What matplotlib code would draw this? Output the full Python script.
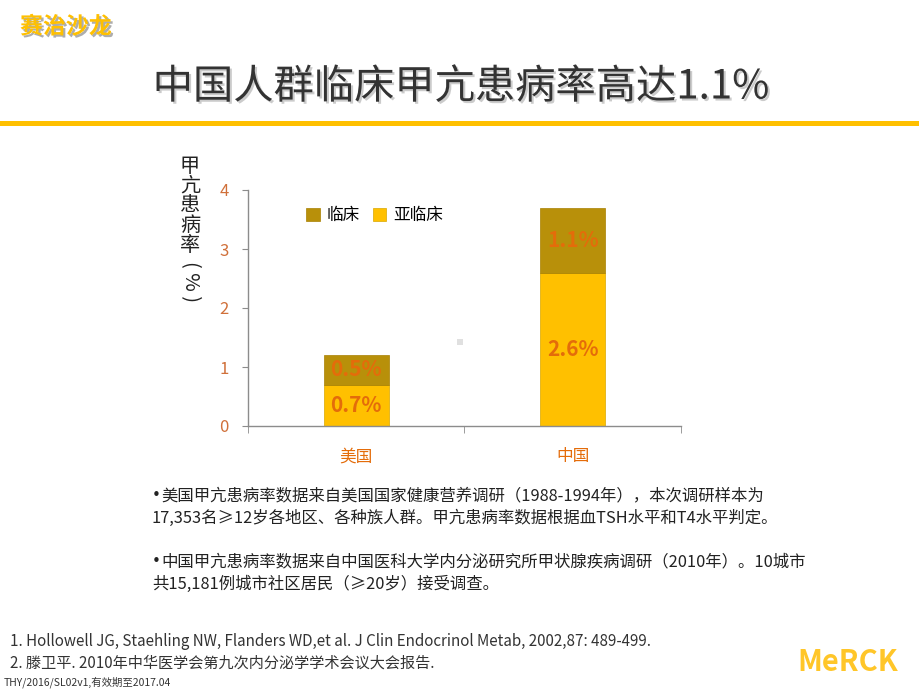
import matplotlib
matplotlib.use('Agg')
import matplotlib.pyplot as plt
import matplotlib.patheffects as pe
from matplotlib.patches import Rectangle
import numpy as np

plt.rcParams['font.family'] = ['Noto Sans CJK SC', 'DejaVu Sans']

# Data
countries = ['美国', '中国']
subclinical = [0.7, 2.6]
clinical = [0.5, 1.1]
sub_labels = ['0.7%', '2.6%']
clin_labels = ['0.5%', '1.1%']
yticks = [0, 1, 2, 3, 4]

gold = '#FFC000'
dark_gold = '#B8900A'
orange = '#E46C0A'
axis_grey = '#8C8C8C'

fig = plt.figure(figsize=(9.2, 6.9), dpi=100)

# Header
fig.text(20 / 920, 1 - 27 / 690, '赛治沙龙', fontsize=16.5, fontweight='bold', color=gold,
         va='center', ha='left',
         path_effects=[pe.withSimplePatchShadow(offset=(1.5, -1.5), shadow_rgbFace='#777777', alpha=0.6)])
fig.text(461 / 920, 1 - 87 / 690, '中国人群临床甲亢患病率高达1.1%', fontsize=29, fontweight='light',
         color='#333333', va='center', ha='center',
         path_effects=[pe.withSimplePatchShadow(offset=(1.5, -1.5), shadow_rgbFace='#999999', alpha=0.5)])
fig.add_artist(Rectangle((0, 1 - 126 / 690), 1, 5 / 690, transform=fig.transFigure,
                         facecolor=gold, edgecolor='none'))

# Chart
ax = fig.add_axes([248 / 920, 1 - 426 / 690, 433 / 920, 236 / 690])
x = np.arange(len(countries))
width = 0.3
ax.bar(x, subclinical, width, color=gold, edgecolor='#D9A800', linewidth=0.5, label='亚临床')
ax.bar(x, clinical, width, bottom=subclinical, color=dark_gold, edgecolor='#A88000',
       linewidth=0.5, label='临床')

for i in range(len(countries)):
    ax.text(x[i], subclinical[i] / 2, sub_labels[i], ha='center', va='center',
            fontsize=15, fontweight='bold', color=orange)
    ax.text(x[i], subclinical[i] + clinical[i] / 2, clin_labels[i], ha='center', va='center',
            fontsize=15, fontweight='bold', color=orange)

ax.set_xlim(-0.5, 1.5)
ax.set_ylim(0, 4)
ax.set_yticks(yticks)
ax.set_yticklabels([str(v) for v in yticks], color='#D0703A', fontsize=12)
ax.set_xticks(x)
ax.set_xticklabels(countries, color=orange, fontsize=12)
ax.tick_params(axis='x', length=0, pad=16)
ax.tick_params(axis='y', length=4, color=axis_grey, pad=10)
ax.set_xticks([-0.5, 0.5, 1.5], minor=True)
ax.tick_params(axis='x', which='minor', length=5, color=axis_grey, direction='out')
for s in ['top', 'right']:
    ax.spines[s].set_visible(False)
for s in ['left', 'bottom']:
    ax.spines[s].set_color(axis_grey)
    ax.spines[s].set_linewidth(1)

handles, labels = ax.get_legend_handles_labels()
ax.legend(handles[::-1], labels[::-1], loc='upper left', bbox_to_anchor=(0.10, 0.99), ncol=2,
          frameon=False, fontsize=12, handlelength=0.8, handleheight=0.8,
          handletextpad=0.4, columnspacing=0.8)

# small grey marker artifact
fig.add_artist(Rectangle((457 / 920, 1 - 345 / 690), 6 / 920, 6 / 690, transform=fig.transFigure,
                         facecolor='#E0E0E0', edgecolor='none'))

# Y label, stacked vertically
fig.text(190 / 920, 1 - 206 / 690, '甲\n亢\n患\n病\n率', fontsize=14.5, color='#222222',
         ha='center', va='center', linespacing=0.92)
fig.text(190 / 920, 1 - 282 / 690, '( % )', fontsize=14.5, color='#222222',
         ha='center', va='center', rotation=270)

# Notes
notes = [
    (496, True, '美国甲亢患病率数据来自美国国家健康营养调研（1988-1994年），本次调研样本为'),
    (518, False, '17,353名≥12岁各地区、各种族人群。甲亢患病率数据根据血TSH水平和T4水平判定。'),
    (562, True, '中国甲亢患病率数据来自中国医科大学内分泌研究所甲状腺疾病调研（2010年）。10城市'),
    (584, False, '共15,181例城市社区居民（≥20岁）接受调查。'),
]
for y, bullet, t in notes:
    if bullet:
        fig.text(152 / 920, 1 - y / 690, '•', fontsize=11, color='#222222', ha='left',
                 va='center', family='DejaVu Sans')
        fig.text(161 / 920, 1 - y / 690, t, fontsize=11.8, color='#222222', ha='left', va='center')
    else:
        fig.text(152 / 920, 1 - y / 690, t, fontsize=11.8, color='#222222', ha='left', va='center')

fig.text(10 / 920, 1 - 641 / 690,
         '1. Hollowell JG, Staehling NW, Flanders WD,et al. J Clin Endocrinol Metab, 2002,87: 489-499.',
         fontsize=10.9, color='#333333', ha='left', va='center')
fig.text(10 / 920, 1 - 663 / 690, '2. 滕卫平. 2010年中华医学会第九次内分泌学学术会议大会报告.',
         fontsize=10.9, color='#333333', ha='left', va='center')
fig.text(4 / 920, 1 - 682 / 690, 'THY/2016/SL02v1,有效期至2017.04', fontsize=7.5,
         color='#333333', ha='left', va='center')
fig.text(848 / 920, 1 - 662 / 690, 'MeRCK', fontsize=21, fontweight='bold', color='#FFC629',
         ha='center', va='center')

fig.savefig('out.png', dpi=100)
